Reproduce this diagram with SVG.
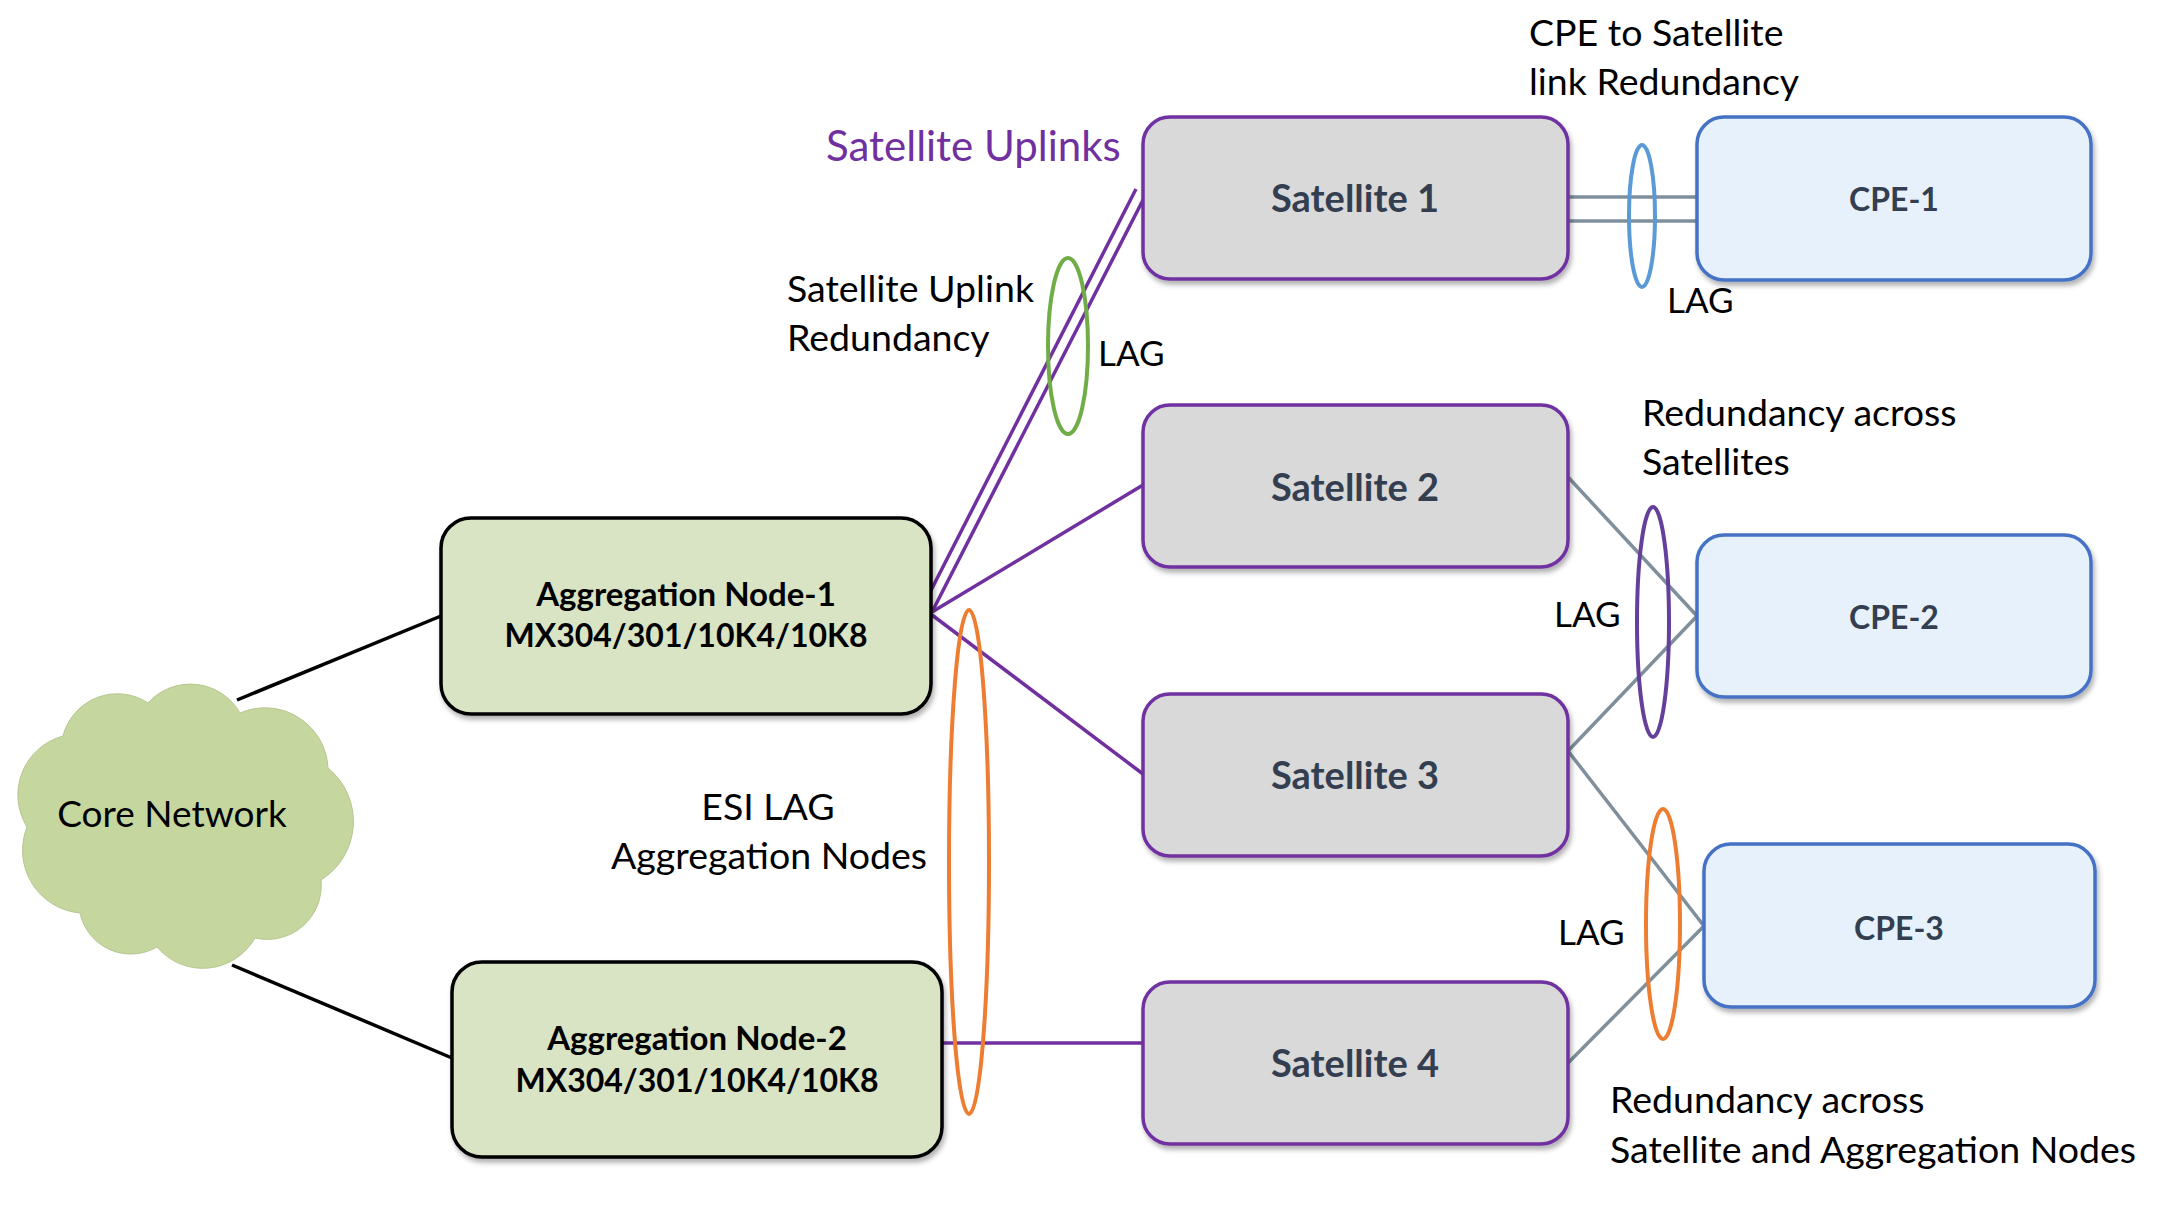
<svg xmlns="http://www.w3.org/2000/svg" width="2160" height="1216" viewBox="0 0 2160 1216">
  <defs>
    <filter id="shadow" x="-10%" y="-10%" width="120%" height="130%">
      <feDropShadow dx="2" dy="4" stdDeviation="2.5" flood-color="#000" flood-opacity="0.3"/>
    </filter>
    <style>
      .sat rect { fill: #d9d9d9; stroke: #7030a0; stroke-width: 3.5; }
      .cpe rect { fill: #e6f1fb; stroke: #4472c4; stroke-width: 3.5; }
      .agg rect { fill: #d9e4c4; stroke: #000; stroke-width: 3.5; }
      .nlabel { font-family: Lato, "Liberation Sans", sans-serif; font-weight: bold; text-anchor: middle; }
      .slabel { fill: #333f50; font-size: 38px; }
      .clabel { fill: #333f50; font-size: 32px; }
      .alabel { fill: #000; font-size: 33px; }
      .mlabel { fill: #000; font-size: 32px; }
      .note { font-family: Lato, "Liberation Sans", sans-serif; font-size: 37.5px; fill: #000; }
      .lag { font-family: Lato, "Liberation Sans", sans-serif; font-size: 35px; fill: #000; }
      .uplinks { font-family: Lato, "Liberation Sans", sans-serif; font-size: 42px; fill: #7030a0; }
      .blk { stroke: #000; stroke-width: 3.5; fill: none; }
      .pur { stroke: #7030a0; stroke-width: 3.5; fill: none; }
      .gry { stroke: #7f8f9c; stroke-width: 3.5; fill: none; }
      .ell { fill: none; stroke-width: 4; }
    </style>
  </defs>
  <rect width="2160" height="1216" fill="#fff"/>

  <g id="connectors">
    <line class="blk" x1="237" y1="700" x2="441" y2="616"/>
    <line class="blk" x1="232" y1="965" x2="452" y2="1058"/>
    <line class="pur" x1="924" y1="604" x2="1136" y2="189"/>
    <line class="pur" x1="932" y1="612" x2="1143" y2="200"/>
    <line class="pur" x1="932" y1="612" x2="1143" y2="485"/>
    <line class="pur" x1="932" y1="615" x2="1143" y2="774"/>
    <line class="pur" x1="942" y1="1043" x2="1143" y2="1043"/>
    <line class="gry" x1="1568" y1="197" x2="1697" y2="197"/>
    <line class="gry" x1="1568" y1="221" x2="1697" y2="221"/>
    <line class="gry" x1="1568" y1="477" x2="1697" y2="616"/>
    <line class="gry" x1="1568" y1="751" x2="1697" y2="616"/>
    <line class="gry" x1="1568" y1="751" x2="1704" y2="926"/>
    <line class="gry" x1="1568" y1="1063" x2="1704" y2="926"/>
  </g>

  <g id="lag-rings">
    <ellipse class="ell" cx="1068" cy="346" rx="20" ry="88" stroke="#70ad47"/>
    <ellipse class="ell" cx="1642" cy="216" rx="13" ry="71" stroke="#5b9bd5"/>
    <ellipse class="ell" cx="1653" cy="622" rx="16" ry="115" stroke="#65409b"/>
    <ellipse class="ell" cx="1663" cy="924" rx="17" ry="115" stroke="#ed7d31"/>
    <ellipse class="ell" cx="969" cy="862" rx="20" ry="252" stroke="#ed7d31"/>
  </g>

  <g id="core-network">
    <path d="M63,736 A56,56 0 0 1 148,703 A57,57 0 0 1 240,713 A63,63 0 0 1 328,768 A69,69 0 0 1 321,880 A54,54 0 0 1 255,938 A60,60 0 0 1 157,947 A52,52 0 0 1 80,913 A63,63 0 0 1 27,827 A61,61 0 0 1 63,736 Z" fill="#c5d69f" stroke="#b5c790" stroke-width="1"/>
    <text x="172" y="827" font-family="Lato, 'Liberation Sans', sans-serif" font-size="37" text-anchor="middle" fill="#000">Core Network</text>
  </g>

  <g id="agg-node-1" class="agg">
    <rect x="441" y="518" width="490" height="196" rx="30" filter="url(#shadow)"/>
    <text class="nlabel alabel" x="686" y="606">Aggregation Node-1</text>
    <text class="nlabel mlabel" x="686" y="647">MX304/301/10K4/10K8</text>
  </g>
  <g id="agg-node-2" class="agg">
    <rect x="452" y="962" width="490" height="195" rx="30" filter="url(#shadow)"/>
    <text class="nlabel alabel" x="697" y="1050">Aggregation Node-2</text>
    <text class="nlabel mlabel" x="697" y="1092">MX304/301/10K4/10K8</text>
  </g>

  <g id="satellite-1" class="sat">
    <rect x="1143" y="117" width="425" height="162" rx="27" filter="url(#shadow)"/>
    <text class="nlabel slabel" x="1355" y="212">Satellite 1</text>
  </g>
  <g id="satellite-2" class="sat">
    <rect x="1143" y="405" width="425" height="162" rx="27" filter="url(#shadow)"/>
    <text class="nlabel slabel" x="1355" y="501">Satellite 2</text>
  </g>
  <g id="satellite-3" class="sat">
    <rect x="1143" y="694" width="425" height="162" rx="27" filter="url(#shadow)"/>
    <text class="nlabel slabel" x="1355" y="789">Satellite 3</text>
  </g>
  <g id="satellite-4" class="sat">
    <rect x="1143" y="982" width="425" height="162" rx="27" filter="url(#shadow)"/>
    <text class="nlabel slabel" x="1355" y="1077">Satellite 4</text>
  </g>

  <g id="cpe-1" class="cpe">
    <rect x="1697" y="117" width="394" height="163" rx="27" filter="url(#shadow)"/>
    <text class="nlabel clabel" x="1894" y="211">CPE-1</text>
  </g>
  <g id="cpe-2" class="cpe">
    <rect x="1697" y="535" width="394" height="162" rx="27" filter="url(#shadow)"/>
    <text class="nlabel clabel" x="1894" y="629">CPE-2</text>
  </g>
  <g id="cpe-3" class="cpe">
    <rect x="1704" y="844" width="391" height="163" rx="27" filter="url(#shadow)"/>
    <text class="nlabel clabel" x="1899" y="940">CPE-3</text>
  </g>

  <g id="annotations">
    <text class="uplinks" x="826" y="161">Satellite Uplinks</text>
    <text class="note" x="1529" y="46">CPE to Satellite</text>
    <text class="note" x="1529" y="95">link Redundancy</text>
    <text class="note" x="787" y="302">Satellite Uplink</text>
    <text class="note" x="787" y="351">Redundancy</text>
    <text class="lag" x="1098" y="366">LAG</text>
    <text class="lag" x="1667" y="313">LAG</text>
    <text class="note" x="1642" y="426">Redundancy across</text>
    <text class="note" x="1642" y="475">Satellites</text>
    <text class="lag" x="1554" y="627">LAG</text>
    <text class="lag" x="1558" y="945">LAG</text>
    <text class="note" x="768" y="820" text-anchor="middle">ESI LAG</text>
    <text class="note" x="769" y="869" text-anchor="middle">Aggregation Nodes</text>
    <text class="note" x="1610" y="1113">Redundancy across</text>
    <text class="note" x="1610" y="1163">Satellite and Aggregation Nodes</text>
  </g>
</svg>
